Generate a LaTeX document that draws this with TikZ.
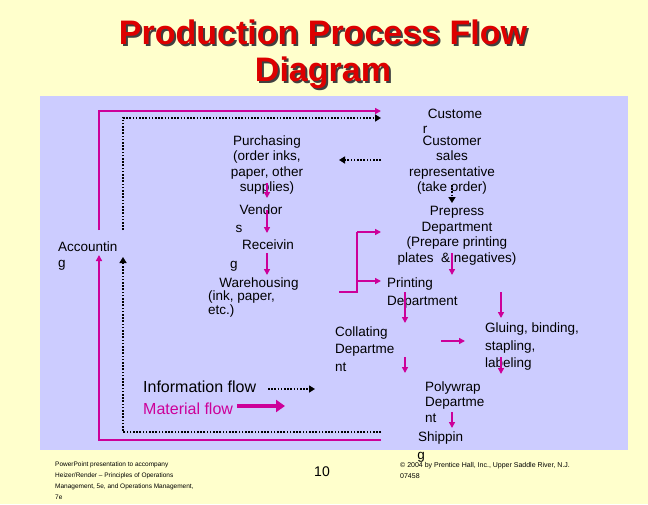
\documentclass[tikz,border=0pt]{standalone}
\usepackage{fontspec}
\setmainfont{Liberation Sans}
\usetikzlibrary{arrows.meta}
\definecolor{bgyel}{HTML}{FFFFCC}
\definecolor{panel}{HTML}{CCCCFF}
\definecolor{mag}{HTML}{CC0099}
\definecolor{ttl}{HTML}{DD0000}
\begin{document}
\begin{tikzpicture}[x=1pt,y=-1pt,
  txt/.style={inner sep=0pt,font=\fontsize{13.5}{15.5}\selectfont,align=center},
  ltxt/.style={txt,anchor=west,align=left},
  mat/.style={mag,line width=1.6pt,-{Triangle[length=6pt,width=6pt]}},
  inf/.style={black,line width=2.6pt,dash pattern=on 1.6pt off 1.6pt,-{Triangle[length=6pt,width=7pt]}},
  small/.style={inner sep=0pt,font=\fontsize{6.5}{11}\selectfont,anchor=north west,align=left}]
\useasboundingbox (0,0) rectangle (648,504);
\fill[bgyel] (0,0) rectangle (648,504);
\fill[panel] (40,96) rectangle (628,450);
% title
\foreach \dx/\c in {2/black!75,0/ttl}
  \node[inner sep=0pt,font=\fontsize{34}{37}\selectfont\bfseries,text=\c,align=center]
    (title\dx) at (323+\dx,54+\dx) {Production Process Flow\\Diagram};
% texts
\node[ltxt] (acc) at (58,256) {Accountin\\g};
\node[txt] (cust) at (455,114) {Custome};
\node[txt] (custr) at (425,130) {r};
\node[txt] (csr) at (452,165) {Customer\\sales\\representative\\(take order)};
\node[txt] (purch) at (267,165) {Purchasing\\(order inks,\\paper, other\\supplies)};
\node[txt] (vend) at (261,210) {Vendor};
\node[txt] (vends) at (239,229) {s};
\node[txt] (recv) at (268,245) {Receivin};
\node[txt] (recvg) at (234,266) {g};
\node[txt] (ware) at (259,284) {Warehousing};
\node[ltxt,font=\fontsize{13.5}{14}\selectfont] (ware2) at (208,304) {(ink, paper,\\etc.)};
\node[txt] (prep) at (457,236) {Prepress\\Department\\(Prepare printing\\plates \ \& negatives)};
\node[ltxt,font=\fontsize{13.5}{18}\selectfont] (print) at (387,293) {Printing\\Department};
\node[ltxt,font=\fontsize{13.5}{17.5}\selectfont] (coll) at (335,349) {Collating\\Departme\\nt};
\node[ltxt,font=\fontsize{13.5}{17.5}\selectfont] (glue) at (485,347) {Gluing, binding,\\stapling,\\labeling};
\node[ltxt] (poly) at (425,402) {Polywrap\\Departme\\nt};
\node[ltxt] (ship) at (418,438) {Shippin};
\node[txt] (shipg) at (421,457) {g};
\node[ltxt,font=\fontsize{16}{18}\selectfont] (linf) at (143,387) {Information flow};
\node[ltxt,text=mag,font=\fontsize{16}{18}\selectfont] (lmat) at (143,409) {Material flow};
\node[small] (foot) at (55,462) {PowerPoint presentation to accompany\\Heizer/Render -- Principles of Operations\\Management, 5e, and Operations Management,\\7e};
\node[inner sep=0pt,font=\fontsize{14}{15}\selectfont] (pg) at (322,472) {10};
\node[small,font=\fontsize{7}{11}\selectfont] (copy) at (400,462) {\textcopyright{} 2004 by Prentice Hall, Inc., Upper Saddle River, N.J.\\07458};
% coordinates
\coordinate (mtop) at (381,111); \coordinate (mbot) at (381,440);
\coordinate (dtop) at (381,118); \coordinate (dbot) at (381,432);
% outer loops
\draw[mat] (99,230) |- (mtop);
\draw[mat] (mbot) -| (99,255);
\draw[inf] (123,230) |- (dtop);
\draw[inf] (dbot) -| (123,257);
% information arrows
\draw[inf] (381,160) -- (339,160);
\draw[inf,line width=1.6pt] (452,185) -- (452,203);
% material arrows
\draw[mat] (267,183) -- (267,198);
\draw[mat] (267,210) -- (267,233);
\draw[mat] (267,253) -- (267,275);
\draw[mat] (452,253) -- (452,275);
\draw[mag,line width=1.6pt] (339,292) -| (357,232);
\draw[mat] (357,232) -- (381,232);
\draw[mat] (357,281) -- (381,281);
\draw[mat] (405,292) -- (405,323);
\draw[mat] (501,292) -- (501,318);
\draw[mat] (441,341) -- (465,341);
\draw[mat] (405,357) -- (405,373);
\draw[mat] (501,357) -- (501,374);
\draw[mat] (452,412) -- (452,428);
% legend
\draw[inf,line width=2pt] (268,389) -- (315,389);
\draw[mag,line width=3.5pt,-{Triangle[length=9pt,width=12pt]}] (237,406) -- (285,406);
\end{tikzpicture}
\end{document}
